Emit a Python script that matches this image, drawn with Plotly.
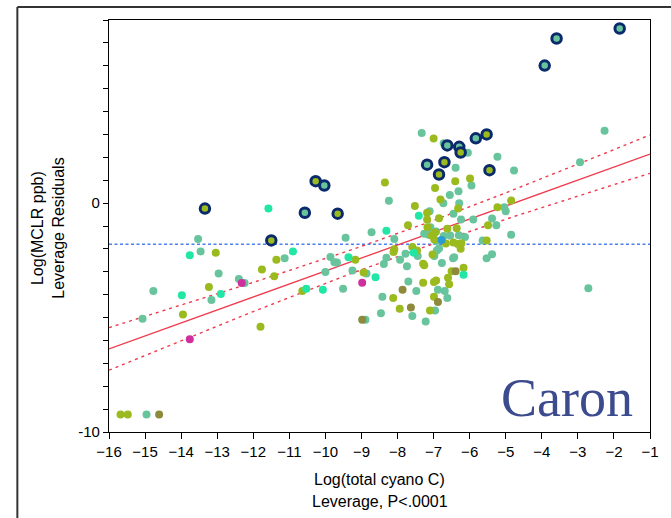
import plotly.graph_objects as go

# ---- leverage-plot data: Log(total cyano C) vs Log(MCLR ppb) leverage residuals ----
teal_x = [-2.26, -5.23, -2.94, -4.77, -5.04, -5.00, -5.38, -5.90, -5.26, -4.85, -5.64, -5.38,
          -5.53, -2.71, -7.33, -6.72, -6.05, -6.39, -5.95, -6.31, -6.55, -6.73, -6.29, -8.24,
          -7.11, -6.45, -6.24, -8.72, -8.09, -9.44, -7.09, -6.93, -7.26, -7.14, -6.93, -6.85,
          -6.91, -6.72, -6.54, -6.30, -6.13, -6.43, -6.46, -6.88, -6.69, -6.62, -6.96, -7.22,
          -6.98, -6.77, -7.44, -7.93, -7.78, -7.74, -7.70, -7.48, -8.42, -7.59, -8.46, -8.89,
          -8.38, -8.31, -9.86, -9.75, -9.68, -9.25, -8.86, -9.51, -10.00, -13.53, -13.46, -12.96,
          -12.40, -12.24, -13.16, -11.13, -14.77, -15.07, -14.96]
teal_y = [3.16, 2.03, 1.79, 1.43, -0.18, -0.36, -0.67, -0.72, -0.97, -1.38, -1.63, -2.23,
          -2.41, -3.72, 3.06, 2.61, 2.20, 1.55, 0.77, 0.52, 0.35, -0.01, -0.01, 0.10,
          -0.36, -0.47, -0.72, -1.27, -1.57, -1.51, -1.05, -1.24, -1.34, -1.38, -1.66, -1.98,
          -2.07, -1.44, -1.42, -1.40, -1.48, -2.36, -2.41, -3.78, -3.84, -4.15, -4.69, -5.17,
          -2.31, -2.62, -2.31, -2.47, -2.21, -2.76, -3.43, -3.84, -4.09, -4.93, -4.81, -5.10,
          -2.66, -2.39, -2.35, -2.58, -2.60, -2.94, -3.07, -3.74, -3.01, -1.57, -2.11, -3.07,
          -3.32, -3.49, -4.23, -2.41, -3.84, -5.05, -9.24]

olive_x = [-4.85, -5.23, -5.49, -5.53, -7.00, -6.40, -5.99, -6.96, -6.81, -6.32, -8.35, -7.52,
           -7.18, -7.18, -6.85, -7.71, -7.17, -6.62, -6.36, -7.05, -6.96, -6.98, -6.66, -6.45,
           -6.33, -6.23, -6.25, -6.17, -6.50, -6.60, -6.57, -6.99, -6.93, -6.99, -7.10, -7.03,
           -8.09, -8.11, -7.59, -7.46, -7.29, -7.26, -7.29, -8.12, -7.94, -9.17, -8.94, -10.64,
           -13.04, -13.23, -11.76, -11.36, -11.42, -13.95, -11.80, -15.68, -15.48]
olive_y = [0.11, -0.18, -0.97, -1.63, 2.82, 0.96, 1.08, 0.66, 0.16, -0.23, 0.90, -0.13,
           -0.42, -0.72, -0.66, -0.97, -1.05, -1.12, -1.10, -1.41, -1.28, -1.59, -1.77, -1.72,
           -1.79, -1.75, -1.99, -2.82, -2.98, -3.26, -3.54, -3.45, -3.38, -4.09, -4.69, -2.25,
           -2.02, -2.14, -1.92, -2.07, -2.65, -2.72, -3.48, -4.15, -4.62, -2.47, -3.03, -3.84,
           -2.17, -3.67, -2.90, -2.47, -3.20, -4.87, -5.40, -9.24, -9.24]

aqua_x = [-7.41, -8.31, -6.17, -7.55, -9.36, -8.61, -10.53, -10.07, -11.58, -13.76, -12.90, -10.90, -13.98]
aqua_y = [-0.55, -1.21, -3.13, -2.17, -2.36, -3.24, -3.74, -3.78, -0.24, -2.28, -3.97, -2.11, -4.03]

magenta_x = [-8.98, -12.32, -13.76]
magenta_y = [-3.48, -3.49, -5.95]

brown_x = [-6.39, -6.88, -7.86, -7.63, -8.98, -14.61]
brown_y = [-2.98, -4.32, -3.78, -4.56, -5.10, -9.24]

blue_x = [-6.78]
blue_y = [-1.61]

# highlighted (ringed) observations and their fill colours
ring_x = [-1.84, -3.59, -3.92, -13.34, -10.27, -10.03, -10.57, -9.66, -11.50,
          -6.62, -6.29, -6.25, -5.83, -5.53, -7.18, -6.70, -6.85, -5.45]
ring_y = [7.63, 7.19, 6.01, -0.24, 0.96, 0.77, -0.42, -0.46, -1.63,
          2.52, 2.46, 2.21, 2.83, 3.00, 1.68, 1.79, 1.25, 1.44]
ring_fill = ["teal", "teal", "teal", "olive", "olive", "teal", "teal", "olive", "olive",
             "teal", "teal", "olive", "teal", "olive", "teal", "olive", "olive", "olive"]

# fitted line (end points) and confidence-curve parameters
fit_x = [-16, -1]
fit_y = [-6.37, 2.14]
ci_min_halfwidth = 0.50   # half-width at the mean of x
ci_curvature = 0.00946
x_mean = -7.94
y_mean = -1.80            # horizontal reference line (mean of response)

x_ticks = list(range(-16, 0))
y_ticks = list(range(-10, 9))
y_ticktext = ["-10" if v == -10 else ("0" if v == 0 else "") for v in y_ticks]

COLORS = {"teal": "#68c49c", "olive": "#9aba1e", "aqua": "#22e6a5",
          "magenta": "#d0309e", "brown": "#8e8a3c", "blue": "#2a9ad2"}
RING = "#0b2a6b"

fig = go.Figure()


def add_points(xs, ys, color):
    fig.add_trace(go.Scatter(x=xs, y=ys, mode="markers", hoverinfo="x+y",
                             marker=dict(size=8, color=color, line=dict(width=0))))


# confidence curves around the fitted line
slope = (fit_y[1] - fit_y[0]) / (fit_x[1] - fit_x[0])
n_steps = 120
cx = [fit_x[0] + (fit_x[1] - fit_x[0]) * i / n_steps for i in range(n_steps + 1)]
cy = [fit_y[0] + slope * (v - fit_x[0]) for v in cx]
hw = [(ci_min_halfwidth ** 2 + ci_curvature * (v - x_mean) ** 2) ** 0.5 for v in cx]

fig.add_trace(go.Scatter(x=[-16, -1], y=[y_mean, y_mean], mode="lines", hoverinfo="skip",
                         line=dict(color="#4a7ff0", width=1.6, dash="3px,2.5px")))
for sign in (1, -1):
    fig.add_trace(go.Scatter(x=cx, y=[c + sign * h for c, h in zip(cy, hw)], mode="lines",
                             hoverinfo="skip",
                             line=dict(color="#f03a4e", width=1.4, dash="3px,4px")))
fig.add_trace(go.Scatter(x=fit_x, y=fit_y, mode="lines", hoverinfo="skip",
                         line=dict(color="#f03a4e", width=1.3)))

add_points(teal_x, teal_y, COLORS["teal"])
add_points(olive_x, olive_y, COLORS["olive"])
add_points(aqua_x, aqua_y, COLORS["aqua"])
add_points(brown_x, brown_y, COLORS["brown"])
add_points(magenta_x, magenta_y, COLORS["magenta"])
add_points(blue_x, blue_y, COLORS["blue"])

fig.add_trace(go.Scatter(x=ring_x, y=ring_y, mode="markers", hoverinfo="x+y",
                         marker=dict(size=9.5, color=[COLORS[c] for c in ring_fill],
                                     line=dict(width=3, color=RING))))

# plot-area geometry in pixels (for placing paper-referenced items)
L, R, T, B = 109, 658, 20, 432
W, H = R - L, B - T


def px(x):
    return (x - L) / W


def py(y):
    return (B - y) / H


font = "Liberation Sans, Arial, sans-serif"
annotations = [
    dict(text="Log(total cyano C)", x=0.5, y=py(479), xref="paper", yref="paper",
         showarrow=False, xanchor="center", yanchor="middle",
         font=dict(family=font, size=16, color="black")),
    dict(text="Leverage, P<.0001", x=0.5, y=py(502), xref="paper", yref="paper",
         showarrow=False, xanchor="center", yanchor="middle",
         font=dict(family=font, size=16, color="black")),
    dict(text="Log(MCLR ppb)", x=px(36), y=py(228), xref="paper", yref="paper",
         showarrow=False, xanchor="center", yanchor="middle", textangle=-90,
         font=dict(family=font, size=16, color="black")),
    dict(text="Leverage Residuals", x=px(57), y=py(228), xref="paper", yref="paper",
         showarrow=False, xanchor="center", yanchor="middle", textangle=-90,
         font=dict(family=font, size=16, color="black")),
    dict(text="Caron", x=px(643), y=py(398), xref="paper", yref="paper",
         showarrow=False, xanchor="right", yanchor="middle",
         font=dict(family="Liberation Serif, Times New Roman, serif", size=54, color="#3c4a8e")),
]

shapes = [
    dict(type="line", xref="paper", yref="paper", x0=px(16), x1=px(16), y0=py(7), y1=py(540),
         line=dict(color="#333333", width=2)),
    dict(type="line", xref="paper", yref="paper", x0=px(16), x1=px(700), y0=py(7), y1=py(7),
         line=dict(color="#333333", width=2)),
]

fig.update_layout(
    width=671, height=518,
    margin=dict(l=L, r=671 - R, t=T, b=518 - B),
    paper_bgcolor="white", plot_bgcolor="white",
    showlegend=False,
    annotations=annotations, shapes=shapes,
    font=dict(family=font, size=15, color="black"),
)
fig.update_xaxes(range=[-16, -1], tickmode="array", tickvals=x_ticks,
                 ticks="outside", ticklen=6, tickwidth=1.3, tickcolor="black",
                 showline=True, linecolor="black", linewidth=1.3, mirror=True,
                 showgrid=False, zeroline=False,
                 tickfont=dict(family=font, size=15, color="black"))
fig.update_yaxes(range=[-10, 8], tickmode="array", tickvals=y_ticks, ticktext=y_ticktext,
                 ticks="outside", ticklen=5, tickwidth=1.3, tickcolor="black",
                 showline=True, linecolor="black", linewidth=1.3, mirror=True,
                 showgrid=False, zeroline=False,
                 tickfont=dict(family=font, size=15, color="black"))

fig.write_html("out.html")
